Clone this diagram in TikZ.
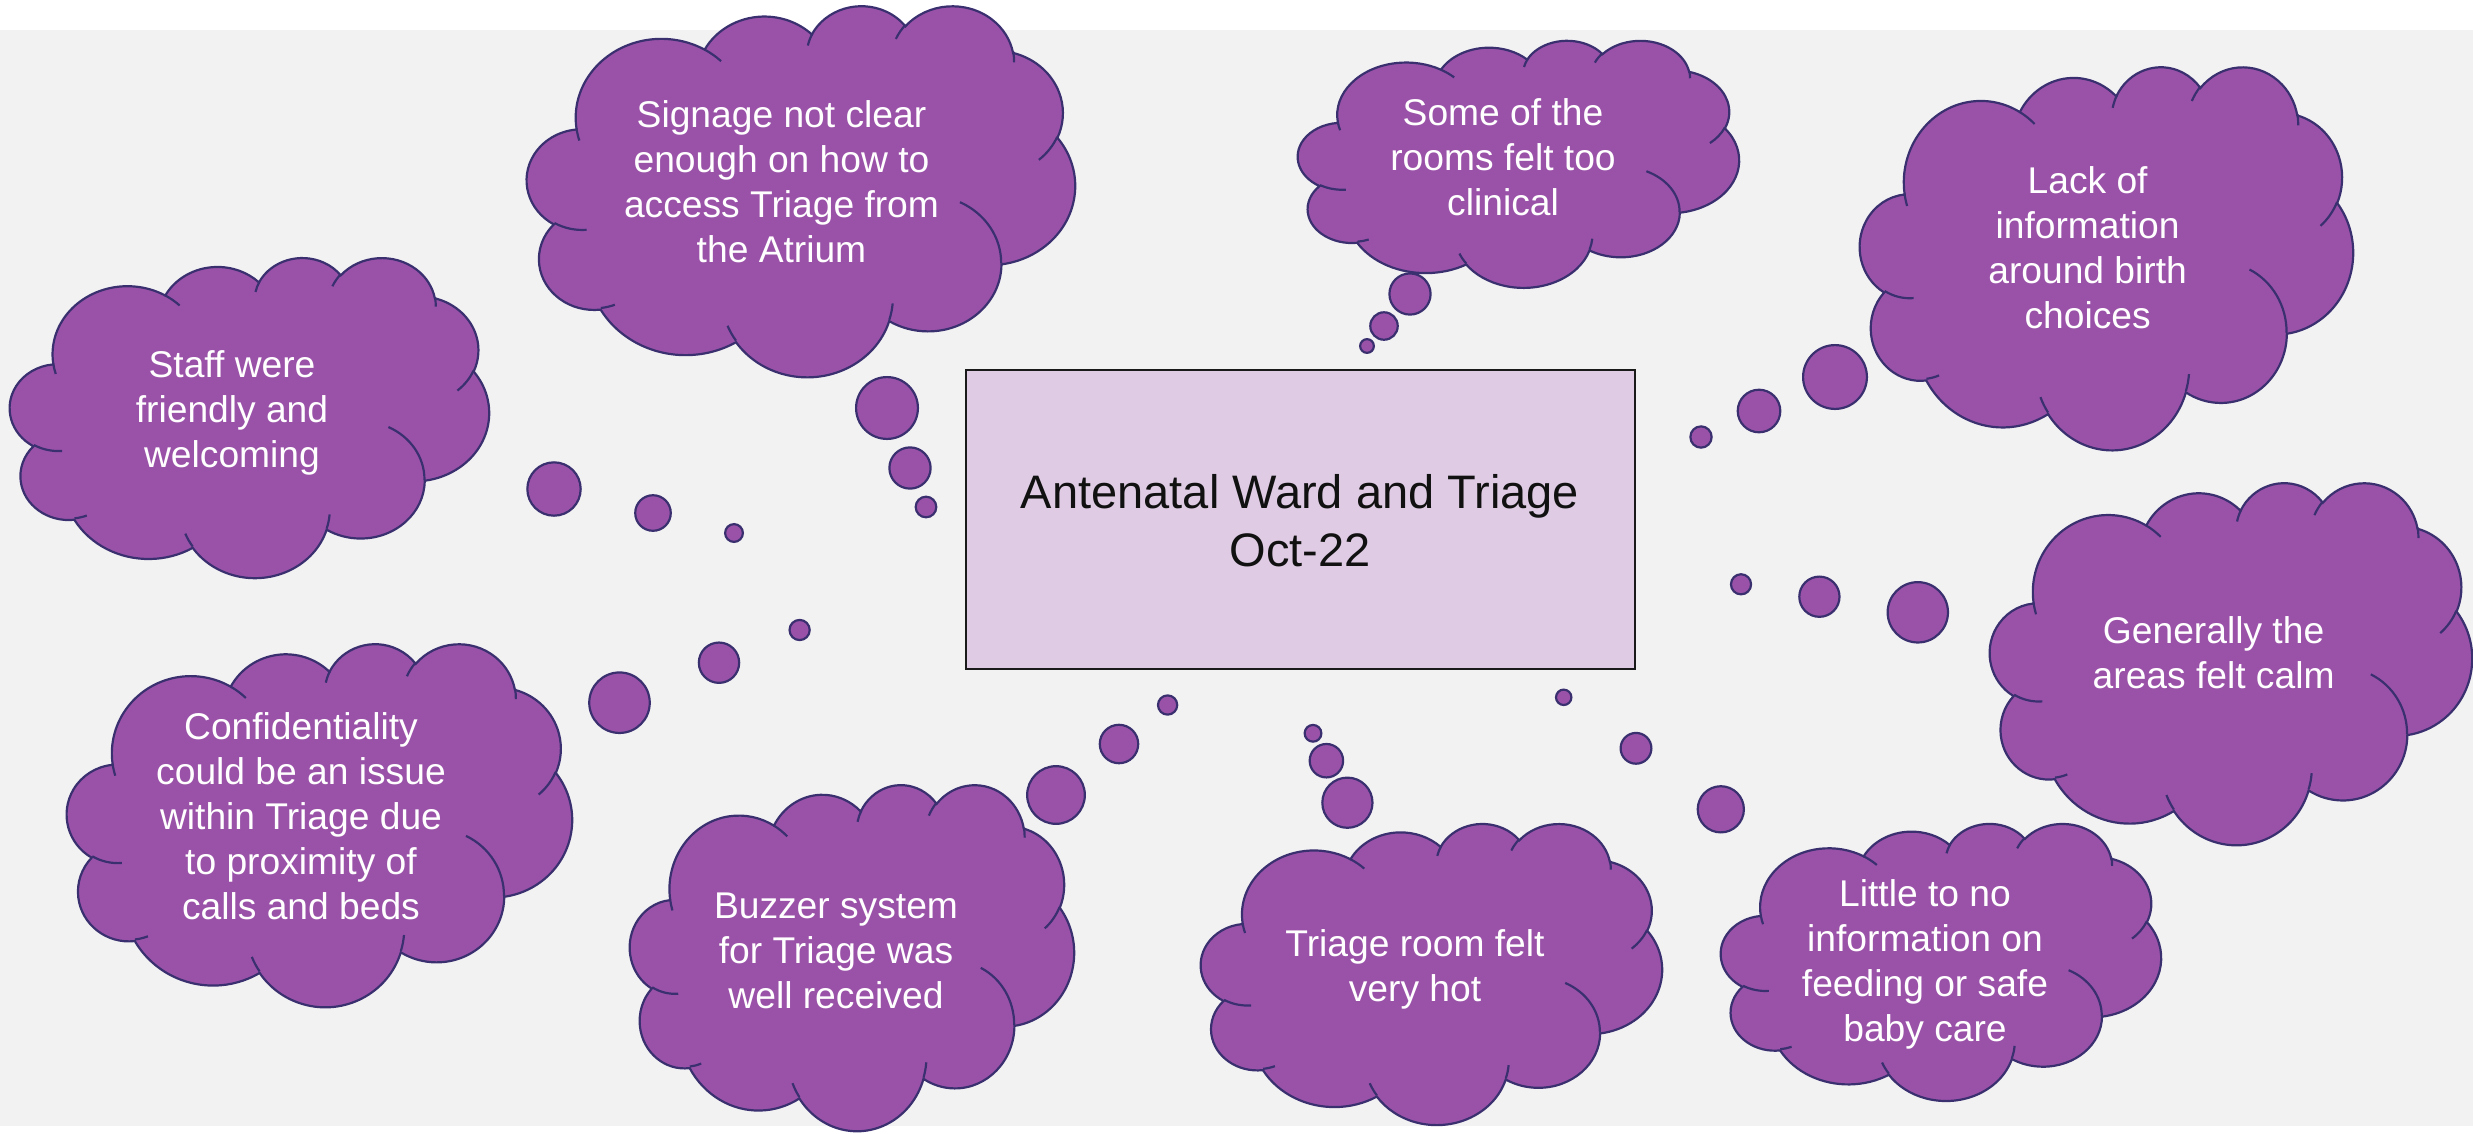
\documentclass[tikz,border=0pt]{standalone}
\usepackage{fontspec}
\setmainfont{Liberation Sans}
\definecolor{bggray}{HTML}{F2F2F2}
\definecolor{cloudfill}{HTML}{9A52A8}
\definecolor{cloudline}{HTML}{3A3070}
\definecolor{boxfill}{HTML}{DFCCE4}
\definecolor{boxline}{HTML}{1A1A1A}
\definecolor{titletext}{HTML}{111111}
% PowerPoint cloud geometry (units of 1/100 of 43200), arcs with visual angles
\newcommand\cldarcto[5]{%
  \pgfmathsetmacro\cldS{atan2((#2)*sin(#4),(#3)*cos(#4))}%
  \pgfmathsetmacro\cldE{atan2((#2)*sin((#4)+(#5)),(#3)*cos((#4)+(#5)))}%
  \pgfmathsetmacro\cldD{mod(\cldE-(\cldS)+720,360)}%
  \xdef#1{#1 arc[x radius=#2,y radius=#3,start angle=\cldS,delta angle=\cldD]}}
\gdef\cldmain{(39.00,143.70)}
\cldarcto\cldmain{67.53}{91.90}{-190.4875}{123.7805}
\cldarcto\cldmain{53.33}{72.67}{-144.1024}{89.9452}
\cldarcto\cldmain{43.65}{59.45}{-145.8079}{99.7230}
\cldarcto\cldmain{48.57}{65.95}{-130.9861}{117.2417}
\cldarcto\cldmain{53.33}{72.73}{-78.7089}{109.0269}
\cldarcto\cldmain{67.75}{92.20}{-46.2673}{130.2690}
\cldarcto\cldmain{57.85}{78.67}{0.6250}{114.0333}
\cldarcto\cldmain{67.52}{92.15}{22.4516}{115.1726}
\cldarcto\cldmain{77.20}{105.43}{66.2426}{75.7110}
\cldarcto\cldmain{43.60}{59.18}{-274.9421}{146.7356}
\cldarcto\cldmain{43.45}{59.45}{-246.8285}{152.5189}
\xdef\cldmain{\cldmain -- cycle}
\gdef\cldinner{}
\newcommand\cldin[6]{\xdef\cldinner{\cldinner (#1,#2)}\cldarcto\cldinner{#3}{#4}{#5}{#6}}
\cldin{46.93}{261.77}{43.45}{59.45}{86.7420}{26.4295}
\cldin{69.28}{348.99}{43.60}{59.18}{73.6105}{11.4475}
\cldin{164.78}{390.90}{67.52}{92.15}{137.6242}{14.0811}
\cldin{288.27}{347.51}{67.52}{92.15}{6.4533}{15.9984}
\cldin{341.29}{229.54}{57.85}{78.67}{-70.2924}{70.9174}
\cldin{417.98}{153.54}{53.33}{72.73}{30.3180}{27.7515}
\cldin{383.24}{54.26}{48.57}{65.95}{-13.7443}{14.8660}
\cldin{290.78}{39.52}{48.57}{65.95}{-149.1815}{18.1954}
\cldin{221.41}{47.20}{43.65}{59.45}{-163.4943}{17.6864}
\cldin{140.00}{51.92}{67.53}{91.90}{-66.7070}{12.3194}
\cldin{41.27}{157.89}{67.53}{91.90}{157.6544}{11.8539}
\tikzset{
  cloudshape/.style={fill=cloudfill,draw=cloudline,line width=2.2pt},
  cloudinner/.style={draw=cloudline,line width=2.2pt},
  cloudtext/.style={text=white,font=\fontsize{37.2}{45}\selectfont,align=center,inner sep=0pt},
  boxtext/.style={text=titletext,font=\fontsize{47}{58.4}\selectfont,align=center,inner sep=0pt},
  centrebox/.style={rectangle,fill=boxfill,draw=boxline,line width=2.5pt,inner sep=0pt},
}
\newcommand\drawcloud[4]{%
  \begin{scope}[shift={(#1,#2)},xscale=#3/432,yscale=#4/432]
    \path[cloudshape] \cldmain;
    \path[cloudinner] \cldinner;
  \end{scope}}
\newcommand\bubbles[4]{% h, big, medium, small
  \path[cloudshape] (#2) circle[radius=#1/12];
  \path[cloudshape] (#3) circle[radius=#1/18];
  \path[cloudshape] (#4) circle[radius=#1/36];}
\begin{document}
\begin{tikzpicture}[x=1pt,y=-1pt]
\useasboundingbox (0,0) rectangle (2473,1133);
\clip (0,0) rectangle (2473,1133);
\fill[bggray] (0,30) rectangle (2473,1126);
% centre box
\node[centrebox,minimum width=669pt,minimum height=299pt] (box) at (1300.5,519.5) {};
\node[boxtext] (title) at (1300,525.8) {\strut Antenatal Ward and Triage\\Oct-22\strut};
% A
\drawcloud{527}{5}{548}{371}
\bubbles{371}{887,408}{910,468}{926,507}
\node[cloudtext] (tA) at (781.5,185.8) {\strut Signage not clear\\enough on how to\\access Triage from\\the Atrium\strut};
% B
\drawcloud{1298}{40}{441}{247}
\bubbles{247}{1410,294}{1384,326}{1367,346}
\node[cloudtext] (tB) at (1503,161) {\strut Some of the\\rooms felt too\\clinical\strut};
% C
\drawcloud{1860}{66}{493}{383}
\bubbles{383}{1835,377}{1759,411}{1701,437}
\node[cloudtext] (tC) at (2087.6,252) {\strut Lack of\\information\\around birth\\choices\strut};
% D
\drawcloud{10}{257}{479}{320}
\bubbles{320}{554,489}{653,513}{734,533}
\node[cloudtext] (tD) at (232,413.2) {\strut Staff were\\friendly and\\welcoming\strut};
% E
\drawcloud{67}{643}{505}{363}
\bubbles{363}{619.5,702.7}{719,662.7}{799.6,630}
\node[cloudtext] (tE) at (301,820.2) {\strut Confidentiality\\could be an issue\\within Triage due\\to proximity of\\calls and beds\strut};
% F
\drawcloud{630}{784}{444}{346}
\bubbles{346}{1056,795}{1119,744}{1167.6,705}
\node[cloudtext] (tF) at (836,954.5) {\strut Buzzer system\\for Triage was\\well received\strut};
% G
\drawcloud{1201}{823}{461}{301}
\bubbles{301}{1347.4,802.7}{1326.4,760.7}{1313,733.3}
\node[cloudtext] (tG) at (1415,970.2) {\strut Triage room felt\\very hot\strut};
% H
\drawcloud{1721}{823}{440}{277}
\bubbles{277}{1720.8,809.3}{1636,748.3}{1563.7,697.3}
\node[cloudtext] (tH) at (1925,965.2) {\strut Little to no\\information on\\feeding or safe\\baby care\strut};
% I
\drawcloud{1990}{482}{482}{362}
\bubbles{362}{1917.8,612.3}{1819.4,596.7}{1741,584.3}
\node[cloudtext] (tI) at (2213.6,657.2) {\strut Generally the\\areas felt calm\strut};
\end{tikzpicture}
\end{document}
